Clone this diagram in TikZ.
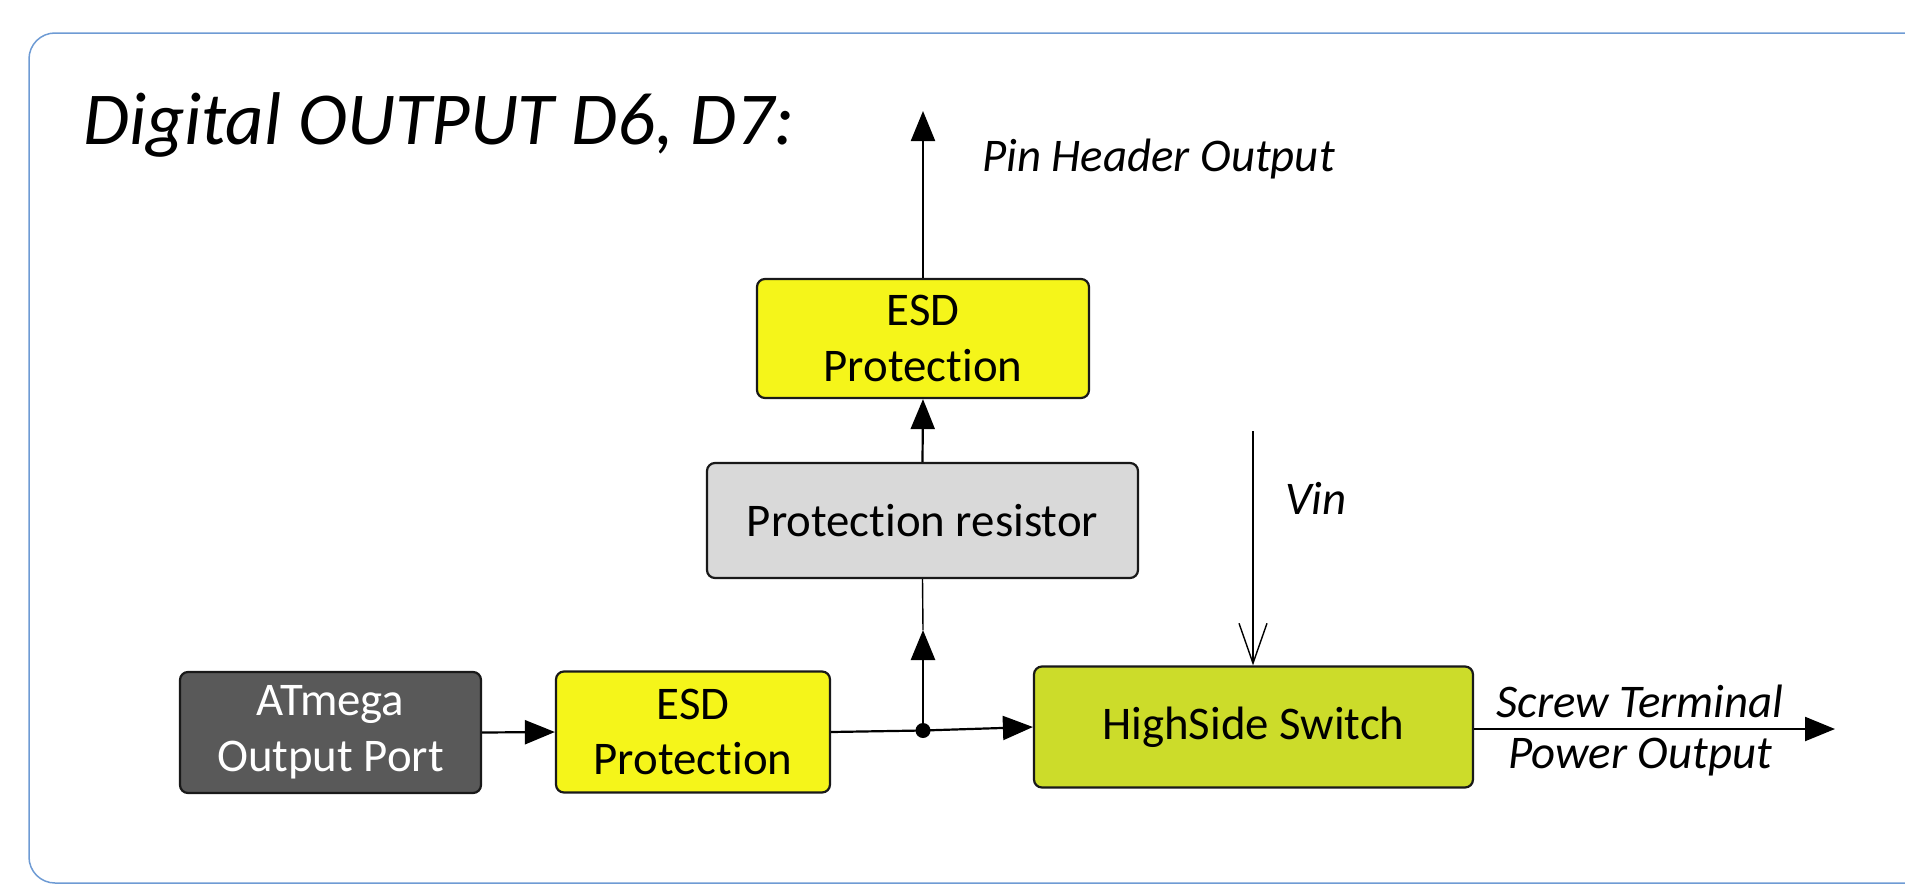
\documentclass[tikz,border=0pt]{standalone}
\usepackage{fontspec}
\setmainfont{Carlito}[Ligatures=NoCommon]
\usetikzlibrary{arrows.meta}
\definecolor{framec}{RGB}{110,155,212}
\definecolor{esdyel}{RGB}{245,245,26}
\definecolor{hsgreen}{RGB}{204,220,42}
\definecolor{resgray}{RGB}{217,217,217}
\definecolor{atmgray}{RGB}{89,89,89}
\begin{document}
\begin{tikzpicture}[x=1bp,y=-1bp,
  blk/.style={draw=black!90, line width=2.2bp, rounded corners=8bp, align=center, inner sep=0pt,
     font=\fontsize{47}{56}\selectfont},
  lbl/.style={font=\fontsize{47}{56}\selectfont\itshape, inner sep=0pt, align=center},
  arr/.style={line width=2.2bp, -{Triangle[length=30bp,width=24bp]}},
  thinln/.style={line width=1.4bp}]
\useasboundingbox (0,0) rectangle (1905,895);
\draw[framec, line width=1.5bp, rounded corners=26bp] (1910,33) -- (29,33) -- (29,883) -- (1910,883);
\node[font=\fontsize{75}{90}\selectfont\itshape, anchor=west, inner sep=0pt] (title) at (83,125) {Digital OUTPUT D6, D7:};
\node[blk, fill=atmgray, text=white, minimum width=301bp, minimum height=121bp] (atm) at (330.5,732.5) {ATmega\\Output Port};
\node[blk, fill=esdyel, minimum width=274bp, minimum height=121bp] (esd1) at (693,732) {ESD\\Protection};
\node[blk, fill=hsgreen, minimum width=439bp, minimum height=121bp] (hs) at (1253.5,727) {HighSide Switch};
\node[blk, fill=resgray, minimum width=431bp, minimum height=115bp] (res) at (922.5,520.5) {Protection resistor};
\node[blk, fill=esdyel, minimum width=332bp, minimum height=119bp] (esd2) at (923,338.5) {ESD\\Protection};
\coordinate (dot) at (923,730.5);
\coordinate (mid) at (923,630);
\coordinate (pin) at (923,111);
\coordinate (vtop) at (1253,431);
\coordinate (outend) at (1835,729);
\fill (dot) circle (7.5bp);
\draw[arr] (atm.east) -- (esd1.west);
\draw[line width=2.2bp] (esd1.east) -- (dot);
\draw[arr] (dot) -- (hs.west);
\draw[line width=2.6bp, -{Triangle[length=30bp,width=24bp]}] (dot) -- (mid);
\draw[thinln] (mid) -- (res.south);
\draw[arr] (res.north) -- (esd2.south);
\draw[arr] (esd2.north) -- (pin);
\draw[thinln, -{Straight Barb[length=40bp,width=28bp,line width=1.4bp]}] (vtop) -- (hs.north -| vtop);
\draw[arr] (hs.east |- outend) -- (outend);
\node[lbl, anchor=west] (pinlbl) at (982,159) {Pin Header Output};
\node[lbl, anchor=west] (vinlbl) at (1285,498) {Vin};
\node[lbl] (screw) at (1640,701) {Screw Terminal};
\node[lbl] (power) at (1640,757) {Power Output};
\end{tikzpicture}
\end{document}
